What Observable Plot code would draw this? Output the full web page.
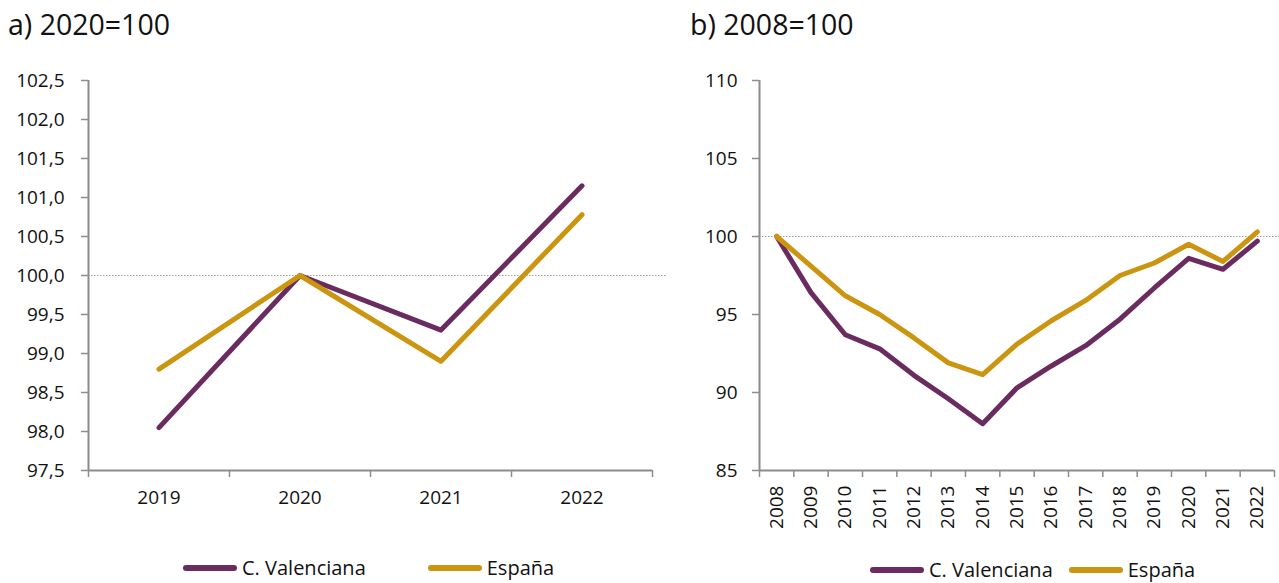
<!DOCTYPE html>
<html>
<head>
<meta charset="utf-8">
<script src="https://cdn.jsdelivr.net/npm/d3@7"></script>
<script src="https://cdn.jsdelivr.net/npm/@observablehq/plot@0.6"></script>
<style>
  body { margin: 0; background: #fff; font-family: "Open Sans", sans-serif; }
  #wrap { position: relative; width: 1279px; height: 583px; overflow: hidden; }
  .title { position: absolute; top: 5px; font-size: 28.5px; color: #111; white-space: nowrap; }
  .panel { position: absolute; top: 50px; }
  .legend { position: absolute; font-size: 20px; line-height: 24px; color: #111; white-space: nowrap; display: flex; align-items: center; }
  .sw { display: inline-block; height: 6px; border-radius: 3px; width: 54px; margin-right: 5px; }
  .item { display: flex; align-items: center; }
</style>
</head>
<body>
<div id="wrap">
  <div class="title" style="left:8px">a) 2020=100</div>
  <div class="title" style="left:690px">b) 2008=100</div>
  <div class="panel" id="left" style="left:0px"></div>
  <div class="panel" id="right" style="left:670px"></div>
  <div class="legend" id="legL" style="left:183px; top:556px"></div>
  <div class="legend" id="legR" style="left:870px; top:558px"></div>
</div>
<script>
const seriesNames = ["C. Valenciana", "España"];
const colors = ["#6a2c60", "#cc9510"];

// Panel a) 2020=100
const yearsA = [2019, 2020, 2021, 2022];
const valA_CV = [98.05, 100.0, 99.3, 101.15];
const valA_ES = [98.8, 100.0, 98.9, 100.78];
const yTicksA = [97.5, 98, 98.5, 99, 99.5, 100, 100.5, 101, 101.5, 102, 102.5];

// Panel b) 2008=100
const yearsB = [2008, 2009, 2010, 2011, 2012, 2013, 2014, 2015, 2016, 2017, 2018, 2019, 2020, 2021, 2022];
const valB_CV = [100, 96.4, 93.7, 92.8, 91.1, 89.6, 88.0, 90.3, 91.7, 93.0, 94.7, 96.7, 98.6, 97.9, 99.7];
const valB_ES = [100, 98.1, 96.2, 95.0, 93.5, 91.9, 91.15, 93.1, 94.6, 95.9, 97.5, 98.3, 99.5, 98.4, 100.3];
const yTicksB = [85, 90, 95, 100, 105, 110];

function toRows(years, a, b) {
  const rows = [];
  years.forEach((y, i) => rows.push({year: y, v: a[i], s: seriesNames[0]}));
  years.forEach((y, i) => rows.push({year: y, v: b[i], s: seriesNames[1]}));
  return rows;
}

const axisGray = "#8c8c8c";
const fmtComma = d => d3.format(".1f")(d).replace(".", ",");

function makeChart({years, rows, yTicks, yFmt, width, height, marginLeft, marginRight, marginBottom, rotate, gridExtra, yPad}) {
  const x0 = years[0] - 0.5, x1 = years[years.length - 1] + 0.5;
  const bounds = years.map(y => y - 0.5).concat([x1]);
  return Plot.plot({
    width, height,
    marginTop: 30, marginLeft, marginRight, marginBottom,
    style: {fontFamily: "Open Sans, sans-serif", fontSize: "19px", color: "#111", background: "transparent", overflow: "visible"},
    x: {type: "linear", domain: [x0, x1]},
    y: {domain: [yTicks[0], yTicks[yTicks.length - 1]]},
    color: {domain: seriesNames, range: colors},
    marks: [
      Plot.ruleY([100], {x1: x0, x2: x1 + gridExtra, stroke: "#9a9a9a", strokeWidth: 1, strokeDasharray: "1.5,1.5", clip: false}),
      Plot.axisY({ticks: yTicks, tickFormat: yFmt, tickSize: 7, tickPadding: yPad, stroke: axisGray, strokeWidth: 1.5, label: null, color: "#111"}),
      Plot.ruleX([x0], {stroke: axisGray, strokeWidth: 2}),
      Plot.ruleY([yTicks[0]], {stroke: axisGray, strokeWidth: 2}),
      Plot.axisX({ticks: bounds, tickFormat: () => "", tickSize: 7, stroke: axisGray, strokeWidth: 1.5, label: null}),
      rotate
        ? Plot.axisX({ticks: years, tickFormat: d => String(d), tickSize: 0, tickPadding: 15, tickRotate: -90, label: null, color: "#111"})
        : Plot.axisX({ticks: years, tickFormat: d => String(d), tickSize: 0, tickPadding: 20, label: null, color: "#111"}),
      Plot.lineY(rows, {x: "year", y: "v", stroke: "s", strokeWidth: 5, strokeLinecap: "round", strokeLinejoin: "round"})
    ]
  });
}

document.getElementById("left").appendChild(makeChart({
  years: yearsA, rows: toRows(yearsA, valA_CV, valA_ES), yTicks: yTicksA, yFmt: fmtComma,
  width: 670, height: 470, marginLeft: 88, marginRight: 18, marginBottom: 50, rotate: false, gridExtra: 0.1, yPad: 17
}));
document.getElementById("right").appendChild(makeChart({
  years: yearsB, rows: toRows(yearsB, valB_CV, valB_ES), yTicks: yTicksB, yFmt: d => String(d),
  width: 609, height: 500, marginLeft: 89, marginRight: 5, marginBottom: 80, rotate: true, gridExtra: 0.15, yPad: 15
}));

function legend(el, gap) {
  const root = document.getElementById(el);
  seriesNames.forEach((n, i) => {
    const it = document.createElement("span");
    it.className = "item";
    if (i > 0) it.style.marginLeft = gap + "px";
    const sw = document.createElement("span");
    sw.className = "sw";
    sw.style.background = colors[i];
    it.appendChild(sw);
    it.appendChild(document.createTextNode(n));
    root.appendChild(it);
  });
}
legend("legL", 62);
legend("legR", 16);
</script>
</body>
</html>
